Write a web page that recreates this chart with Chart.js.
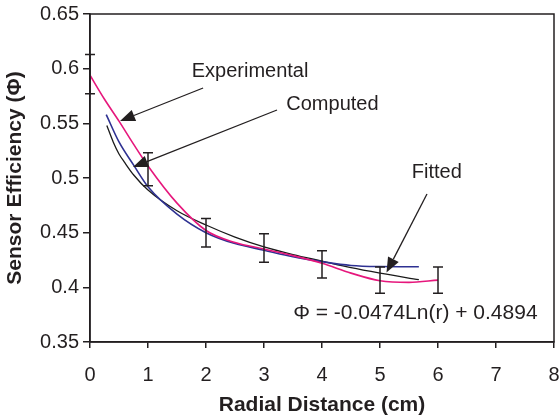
<!DOCTYPE html>
<html>
<head>
<meta charset="utf-8">
<script src="https://cdn.jsdelivr.net/npm/chart.js@4.4.1/dist/chart.umd.min.js"></script>
<style>
html,body{margin:0;padding:0;background:#fff;}
#c{display:block;}
</style>
</head>
<body>
<canvas id="c" width="559" height="420"></canvas>
<script>
// ---- data ----
const xTickValues = [0, 1, 2, 3, 4, 5, 6, 7, 8];
const yTickLabels = ['0.35', '0.4', '0.45', '0.5', '0.55', '0.6', '0.65'];

const expX = [0, 0.25, 0.5, 0.75, 1, 1.5, 2, 2.5, 3, 3.5, 4, 4.5, 5, 5.5, 6];
const expY = [0.594, 0.572, 0.552, 0.531, 0.511, 0.477, 0.452, 0.441, 0.435, 0.429, 0.422, 0.413, 0.406, 0.4045, 0.4066];

const compX = [0.28, 0.5, 0.75, 1, 1.5, 2, 2.5, 3, 3.5, 4, 4.5, 5, 5.67];
const compY = [0.558, 0.533, 0.512, 0.492, 0.467, 0.450, 0.440, 0.434, 0.428, 0.4235, 0.420, 0.419, 0.4188];

const fitX = [0.29, 0.4, 0.5, 0.6, 0.75, 1, 1.5, 2, 2.5, 3, 3.5, 4, 4.5, 5, 5.67];
const fitY = [0.548, 0.533, 0.522, 0.514, 0.503, 0.489, 0.470, 0.457, 0.446, 0.437, 0.430, 0.424, 0.418, 0.413, 0.407];

const errX = [0, 1, 2, 3, 4, 5, 6];
const errMean = [0.595, 0.508, 0.450, 0.436, 0.421, 0.4066, 0.4066];
const errHalf = [0.018, 0.015, 0.013, 0.013, 0.0125, 0.012, 0.012];

const labelTexts = ['Experimental', 'Computed', 'Fitted'];
const equationText = '\u03A6 = -0.0474Ln(r) + 0.4894';

// ---- annotation placement (data coordinates) ----
const annotations = [
  {text: labelTexts[0], tx: 2.76, ty: 0.597, from: [1.95, 0.5823], to: [0.517, 0.5521]},
  {text: labelTexts[1], tx: 4.18, ty: 0.5668, from: [3.224, 0.5622], to: [0.741, 0.510]},
  {text: labelTexts[2], tx: 5.98, ty: 0.5055, from: [5.81, 0.4854], to: [5.112, 0.4136]}
];
const equationPos = {x: 5.61, y: 0.3765};

const toPts = (xs, ys) => xs.map((x, i) => ({x: x, y: ys[i]}));
const FONT = "'Liberation Sans', Arial, Helvetica, sans-serif";
const INK = '#231f20';

const overlay = {
  id: 'overlay',
  afterDatasetsDraw(chart) {
    const ctx = chart.ctx;
    const xs = chart.scales.x, ys = chart.scales.y;
    const a = chart.chartArea;
    ctx.save();
    // error bars
    ctx.strokeStyle = INK;
    ctx.lineWidth = 1.5;
    errX.forEach((x, i) => {
      const px = xs.getPixelForValue(x);
      const top = ys.getPixelForValue(errMean[i] + errHalf[i]);
      const bot = ys.getPixelForValue(errMean[i] - errHalf[i]);
      ctx.beginPath();
      ctx.moveTo(px, top); ctx.lineTo(px, bot);
      ctx.moveTo(px - 5, top); ctx.lineTo(px + 5, top);
      ctx.moveTo(px - 5, bot); ctx.lineTo(px + 5, bot);
      ctx.stroke();
    });
    // annotations
    ctx.fillStyle = INK;
    ctx.font = '20px ' + FONT;
    ctx.textAlign = 'center';
    ctx.textBaseline = 'middle';
    annotations.forEach(an => {
      ctx.fillText(an.text, xs.getPixelForValue(an.tx), ys.getPixelForValue(an.ty));
      const x1 = xs.getPixelForValue(an.from[0]), y1 = ys.getPixelForValue(an.from[1]);
      const x2 = xs.getPixelForValue(an.to[0]), y2 = ys.getPixelForValue(an.to[1]);
      const ang = Math.atan2(y2 - y1, x2 - x1);
      const hl = 15, hw = 6;
      const bx = x2 - hl * Math.cos(ang), by = y2 - hl * Math.sin(ang);
      ctx.lineWidth = 1.3;
      ctx.beginPath();
      ctx.moveTo(x1, y1); ctx.lineTo(bx, by);
      ctx.stroke();
      ctx.beginPath();
      ctx.moveTo(x2, y2);
      ctx.lineTo(bx + hw * Math.sin(ang), by - hw * Math.cos(ang));
      ctx.lineTo(bx - hw * Math.sin(ang), by + hw * Math.cos(ang));
      ctx.closePath();
      ctx.fill();
    });
    ctx.font = '21px ' + FONT;
    ctx.fillText(equationText, xs.getPixelForValue(equationPos.x), ys.getPixelForValue(equationPos.y));
    // frame
    ctx.lineWidth = 1.5;
    ctx.strokeStyle = INK;
    ctx.strokeRect(a.left, a.top, a.right - a.left, a.bottom - a.top);
    ctx.restore();
  }
};

new Chart(document.getElementById('c'), {
  type: 'scatter',
  data: {
    datasets: [
      {label: 'Experimental', data: toPts(expX, expY), showLine: true, borderColor: '#e6177c', borderWidth: 1.6, pointRadius: 0, cubicInterpolationMode: 'monotone', fill: false},
      {label: 'Computed', data: toPts(compX, compY), showLine: true, borderColor: '#2e3192', borderWidth: 1.6, pointRadius: 0, cubicInterpolationMode: 'monotone', fill: false},
      {label: 'Fitted', data: toPts(fitX, fitY), showLine: true, borderColor: '#1a1a1a', borderWidth: 1.3, pointRadius: 0, cubicInterpolationMode: 'monotone', fill: false}
    ]
  },
  options: {
    responsive: false,
    animation: false,
    layout: {padding: {top: 14, right: 5, left: 0, bottom: 0}},
    plugins: {legend: {display: false}, tooltip: {enabled: false}},
    scales: {
      x: {
        type: 'linear', min: 0, max: 8,
        afterBuildTicks: s => { s.ticks = xTickValues.map(v => ({value: v})); },
        afterFit: s => { s.height = 78; s.paddingLeft = 0; s.paddingRight = 0; },
        grid: {display: true, drawOnChartArea: false, drawTicks: true, tickLength: 6, color: INK, lineWidth: 1.5},
        border: {display: true, color: INK, width: 1.5},
        ticks: {color: INK, font: {family: FONT, size: 20}, padding: 15, maxRotation: 0},
        title: {display: true, text: 'Radial Distance (cm)', color: INK, font: {family: FONT, size: 21, weight: 'bold'}, padding: {top: 0, bottom: 2}}
      },
      y: {
        type: 'linear', min: 0.35, max: 0.65,
        afterBuildTicks: s => { s.ticks = yTickLabels.map(t => ({value: parseFloat(t)})); },
        afterFit: s => { s.width = 90; s.paddingTop = 0; s.paddingBottom = 0; },
        grid: {display: true, drawOnChartArea: false, drawTicks: true, tickLength: 7, color: INK, lineWidth: 1.5},
        border: {display: true, color: INK, width: 1.5},
        ticks: {color: INK, font: {family: FONT, size: 20}, padding: 4,
          callback: (v) => { const i = yTickLabels.findIndex(t => Math.abs(parseFloat(t) - v) < 1e-6); return i >= 0 ? yTickLabels[i] : ''; }},
        title: {display: true, text: 'Sensor Efficiency (\u03A6)', color: INK, font: {family: FONT, size: 21, weight: 'bold'}, padding: {top: 3, bottom: 0}}
      }
    }
  },
  plugins: [overlay]
});
</script>
</body>
</html>
